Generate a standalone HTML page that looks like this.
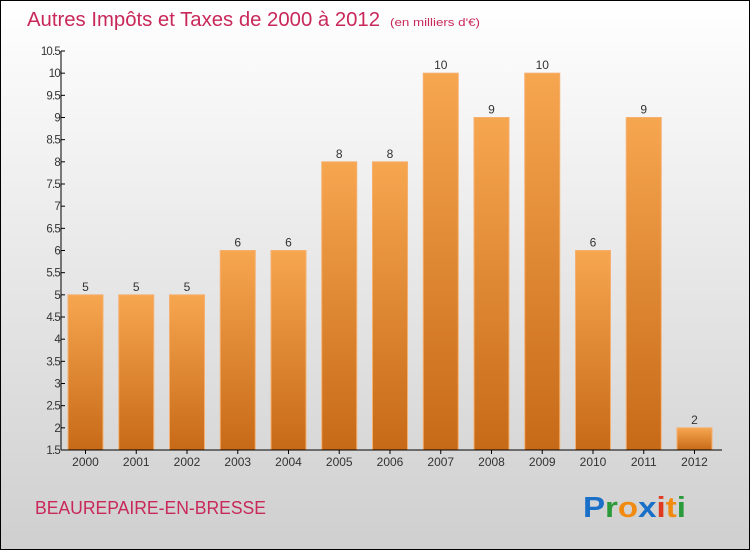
<!DOCTYPE html>
<html><head><meta charset="utf-8"><style>
html,body{margin:0;padding:0;}
body{width:750px;height:550px;overflow:hidden;font-family:"Liberation Sans",sans-serif;}
</style></head><body>
<svg id="chart" width="750" height="550" xmlns="http://www.w3.org/2000/svg">
<defs>
<linearGradient id="bg" x1="0" y1="0" x2="0" y2="1"><stop offset="0" stop-color="#ffffff"/><stop offset="1" stop-color="#cfcfcf"/></linearGradient>
<linearGradient id="bar" x1="0" y1="0" x2="0" y2="1"><stop offset="0" stop-color="#f7a650"/><stop offset="1" stop-color="#c76a18"/></linearGradient>
</defs>
<rect x="0.5" y="0.5" width="749" height="549" fill="url(#bg)" stroke="#000"/>
<text x="27" y="26" font-size="20" fill="#c8285a" textLength="353" lengthAdjust="spacingAndGlyphs">Autres Impôts et Taxes de 2000 à 2012</text>
<text x="390" y="26" font-size="11" fill="#c8285a" textLength="90" lengthAdjust="spacingAndGlyphs">(en milliers d'€)</text>
<g id="bars"></g>
<g id="axes"></g>
<text x="35" y="514" font-size="18" fill="#c8285a" textLength="231" lengthAdjust="spacingAndGlyphs">BEAUREPAIRE-EN-BRESSE</text>
<g font-size="29" font-weight="bold" font-family="'Liberation Sans',sans-serif">
<text x="583" y="517" textLength="103" lengthAdjust="spacingAndGlyphs"><tspan fill="#1a6fc8">P</tspan><tspan fill="#2a9a3a">r</tspan><tspan fill="#f08a10">o</tspan><tspan fill="#1a6fc8">x</tspan><tspan fill="#e03a20">i</tspan><tspan fill="#f08a10">t</tspan><tspan fill="#2a9a3a">i</tspan></text>
</g>
</svg>
<script>
const categories=["2000","2001","2002","2003","2004","2005","2006","2007","2008","2009","2010","2011","2012"];
const values=[5,5,5,6,6,8,8,10,9,10,6,9,2];
const yTicks=[1.5,2,2.5,3,3.5,4,4.5,5,5.5,6,6.5,7,7.5,8,8.5,9,9.5,10,10.5];
const NS="http://www.w3.org/2000/svg";
const x0=61,x1=722,yMin=1.5,yMax=10.5,yBot=450,yTop=51;
const step=50.75,bw=35,first=68;
function y(v){return yBot-(v-yMin)/(yMax-yMin)*(yBot-yTop);}
function xc(i){return first+bw/2+i*step;}
function mk(tag,attrs,parent){const e=document.createElementNS(NS,tag);for(const k in attrs)e.setAttribute(k,attrs[k]);parent.appendChild(e);return e;}
const gb=document.getElementById('bars'),ga=document.getElementById('axes');
values.forEach((v,i)=>{
 const r=mk('rect',{x:xc(i)-bw/2,y:y(v),width:bw,height:yBot-y(v),fill:'url(#bar)',stroke:'#f5b070','stroke-width':1},gb);
 
 
 const t=mk('text',{x:xc(i),y:y(v)-4,'text-anchor':'middle','font-size':12,fill:'#333'},gb);
 t.textContent=v;
 
 
 const xl=mk('text',{x:xc(i),y:yBot+16,'text-anchor':'middle','font-size':12,fill:'#333'},ga);
 xl.textContent=categories[i];
 
 
 mk('line',{x1:xc(i),x2:xc(i),y1:yBot,y2:yBot+4,stroke:'#000'},ga);
});
const ya=mk('line',{x1:x0,x2:x0,y1:yTop,y2:yBot,stroke:'#000'},ga);


const xa=mk('line',{x1:x0,x2:x1,y1:yBot,y2:yBot,stroke:'#000'},ga);


yTicks.forEach(v=>{
 mk('line',{x1:x0,x2:x0+4,y1:y(v),y2:y(v),stroke:'#000'},ga);
 const t=mk('text',{x:x0-1,y:y(v)+4,'text-anchor':'end','font-size':11.5,fill:'#333','letter-spacing':'-0.8'},ga);
 t.textContent=v;
 
 
});
</script>
</body></html>
